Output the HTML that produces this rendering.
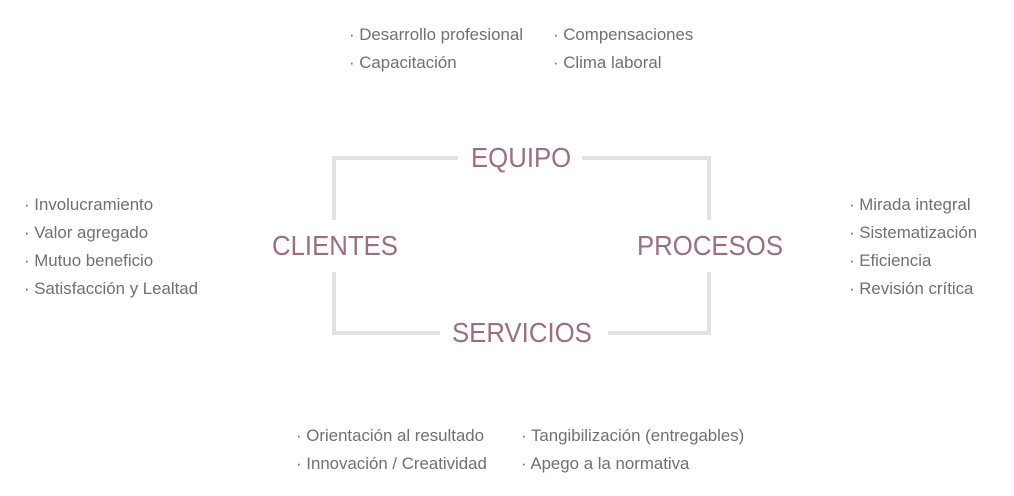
<!DOCTYPE html>
<html><head><meta charset="utf-8"><style>
body{margin:0;width:1014px;height:496px;background:#fff;position:relative;font-family:"Liberation Sans",sans-serif;overflow:hidden}
.t{position:absolute;font-size:17px;color:#707070;white-space:nowrap;line-height:28px;transform:scaleX(0.99);transform-origin:left}
.b{position:absolute;font-size:28px;color:#9a6f86;white-space:nowrap;line-height:32px;transform:scaleX(0.92);transform-origin:left}
.l{position:absolute;background:#e2e2e2}
</style></head><body>
<div class="l" style="left:332px;top:156px;width:126px;height:4px"></div>
<div class="l" style="left:582px;top:156px;width:129px;height:4px"></div>
<div class="l" style="left:332px;top:331px;width:108px;height:4px"></div>
<div class="l" style="left:608px;top:331px;width:103px;height:4px"></div>
<div class="l" style="left:332px;top:156px;width:4px;height:64px"></div>
<div class="l" style="left:332px;top:272px;width:4px;height:63px"></div>
<div class="l" style="left:707px;top:156px;width:4px;height:64px"></div>
<div class="l" style="left:707px;top:272px;width:4px;height:63px"></div>
<div class="b" style="left:471px;top:142px">EQUIPO</div>
<div class="b" style="left:272px;top:230px">CLIENTES</div>
<div class="b" style="left:637px;top:230px">PROCESOS</div>
<div class="b" style="left:452px;top:317px">SERVICIOS</div>
<div class="t" style="left:349px;top:21px">· Desarrollo profesional<br>· Capacitación</div>
<div class="t" style="left:553px;top:21px">· Compensaciones<br>· Clima laboral</div>
<div class="t" style="left:24px;top:191px">· Involucramiento<br>· Valor agregado<br>· Mutuo beneficio<br>· Satisfacción y Lealtad</div>
<div class="t" style="left:849px;top:191px">· Mirada integral<br>· Sistematización<br>· Eficiencia<br>· Revisión crítica</div>
<div class="t" style="left:296px;top:422px">· Orientación al resultado<br>· Innovación / Creatividad</div>
<div class="t" style="left:521px;top:422px">· Tangibilización (entregables)<br>· Apego a la normativa</div>
</body></html>
